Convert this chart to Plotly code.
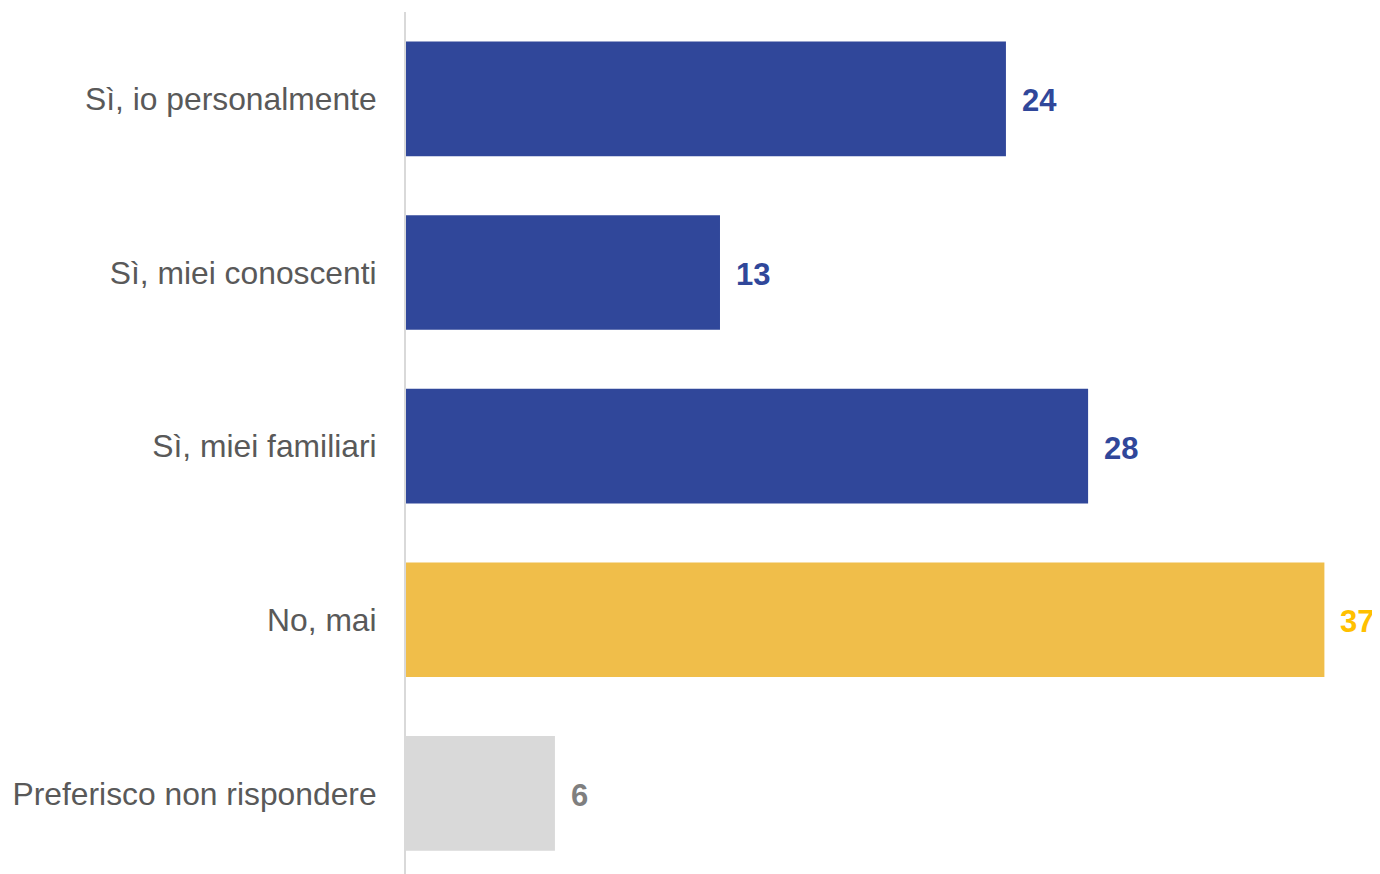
import plotly.graph_objects as go

categories = ["Sì, io personalmente", "Sì, miei conoscenti", "Sì, miei familiari", "No, mai", "Preferisco non rispondere"]
values = [24.17, 12.65, 27.48, 37.0, 6.0]
labels = ["24", "13", "28", "37", "6"]
bar_colors = ["#30479A", "#30479A", "#30479A", "#F0BE4A", "#D9D9D9"]
label_colors = ["#30479A", "#30479A", "#30479A", "#FFC000", "#7F7F7F"]

FONT = "Liberation Sans, Arial, sans-serif"

fig = go.Figure()
fig.add_trace(go.Bar(
    x=values, y=categories, orientation="h",
    marker=dict(color=bar_colors, line=dict(width=0)),
    width=0.66, hoverinfo="skip",
))

for c, v, t, col in zip(categories, values, labels, label_colors):
    fig.add_annotation(x=v, y=c, text=t, showarrow=False, xanchor="left", yanchor="middle",
                       xshift=14, yshift=-2, font=dict(family=FONT, size=31, color=col, weight="bold"))

fig.update_layout(
    width=1372, height=866,
    margin=dict(l=398, r=0, t=4, b=0),
    plot_bgcolor="white", paper_bgcolor="white",
    showlegend=False,
    font=dict(family=FONT),
)
fig.update_xaxes(range=[0, 39.24], visible=False, showgrid=False, zeroline=False)
fig.update_yaxes(
    type="category", categoryorder="array", categoryarray=categories,
    range=[4.464, -0.5],
    showgrid=False, zeroline=False,
    showline=True, linecolor="#D9D9D9", linewidth=2,
    ticks="", ticklabelstandoff=21,
    tickfont=dict(size=31.8, color="#595959", family=FONT),
)

fig.write_html("out.html")
